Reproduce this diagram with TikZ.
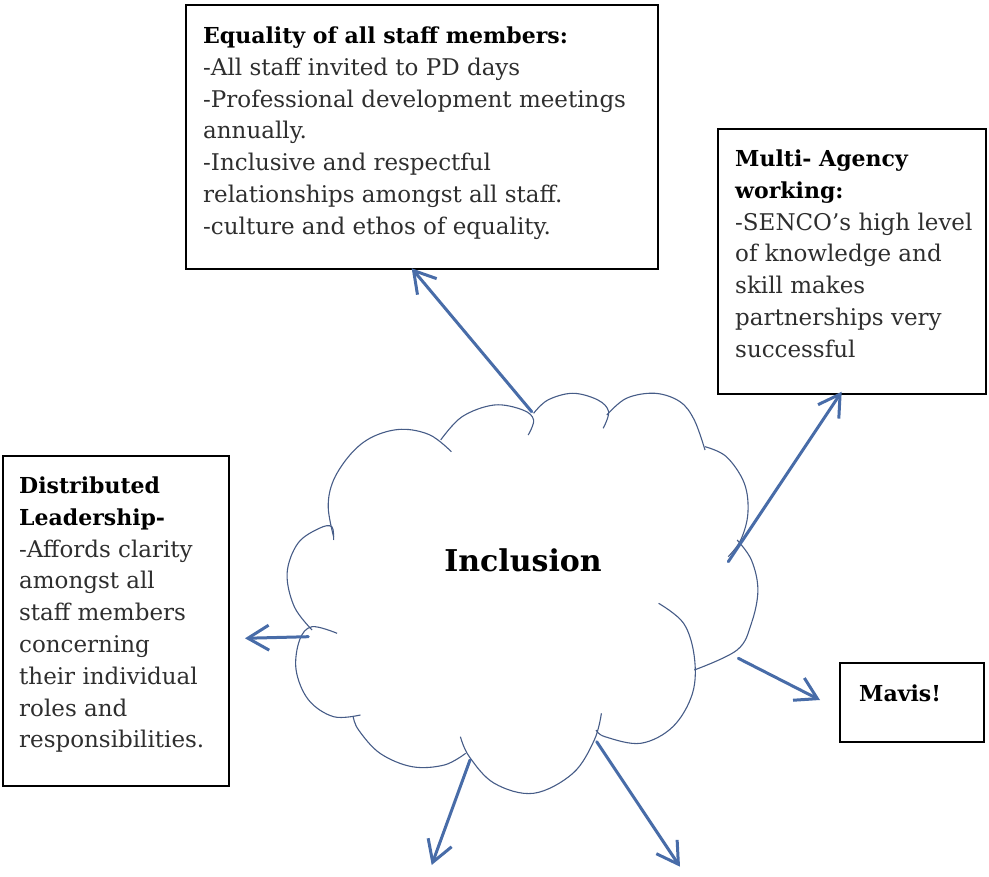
\documentclass[tikz,border=0pt]{standalone}
\usepackage{fontspec}
\setmainfont{DejaVu Serif}
\usetikzlibrary{arrows.meta}
\definecolor{arrowblue}{RGB}{72,108,168}
\definecolor{cloudcol}{RGB}{70,92,135}
\newcommand{\hd}[1]{{\fontsize{22}{31.8}\selectfont\bfseries\color{black}#1}}
\begin{document}
\begin{tikzpicture}[x=1pt,y=-1pt,
  box/.style={draw=black, line width=1.8pt, inner sep=0pt, anchor=north west},
  txt/.style={anchor=north west, inner sep=0pt, align=left, font=\fontsize{23}{31.8}\selectfont, text=black!82},
  arr/.style={draw=arrowblue, line width=3pt, line cap=round, -{Straight Barb[length=21pt,width=25pt,line width=3pt]}},
  cl/.style={draw=cloudcol, line width=1.1pt}]
\useasboundingbox (0,0) rectangle (989,877);

% boxes
\node[box, minimum width=472pt, minimum height=264pt] (eqbox) at (185,4) {};
\node[box, minimum width=268pt, minimum height=265pt] (mabox) at (717,128) {};
\node[box, minimum width=226pt, minimum height=330pt] (dlbox) at (2,455) {};
\node[box, minimum width=144pt, minimum height=79pt] (mvbox) at (839,662) {};

% texts
\node[txt] (eqtxt) at (203,26.5) {\hd{Equality of all staff members:}\\-All staff invited to PD days\\-Professional development meetings\\annually.\\-Inclusive and respectful\\relationships amongst all staff.\\-culture and ethos of equality.};
\node[txt] (matxt) at (735,149.5) {\hd{Multi- Agency}\\\hd{working:}\\-SENCO’s high level\\of knowledge and\\skill makes\\partnerships very\\successful};
\node[txt] (dltxt) at (19,476.5) {\hd{Distributed}\\\hd{Leadership-}\\-Affords clarity\\amongst all\\staff members\\concerning\\their individual\\roles and\\responsibilities.};
\node[txt] (mvtxt) at (859,684.5) {\hd{Mavis!}};

% cloud
\draw[cl] plot[smooth, tension=0.6] coordinates {(333.6,536.7) (328.2,506.7) (333.6,480) (351.4,453.3) (372.9,436.7) (401.4,429.3) (430,435) (451.4,451.7)};
\draw[cl] plot[smooth, tension=0.6] coordinates {(440.7,440) (462.1,416.7) (494.3,405) (522.9,410) (533.6,420) (528.2,435)};
\draw[cl] plot[smooth, tension=0.6] coordinates {(533.6,413.3) (547.9,400) (572.9,393.3) (597.9,400) (608.6,411.7) (603.2,428.3)};
\draw[cl] plot[smooth, tension=0.6] coordinates {(606.8,415) (626.4,398.3) (655,393.3) (680,401.7) (694.3,420) (705,450)};
\draw[cl] plot[smooth, tension=0.6] coordinates {(705,446.7) (726.4,456.7) (744.3,483.3) (747.9,513.3) (740.7,540) (728.2,556.7)};
\draw[cl] plot[smooth, tension=0.6] coordinates {(737.1,540) (751.4,560) (757.9,590) (751.4,623.3) (737.1,650) (694.3,670)};
\draw[cl] plot[smooth, tension=0.6] coordinates {(658.6,603.3) (683.6,623.3) (694.3,656.7) (692.5,693.3) (672.9,726.7) (640.7,743.3) (605,736.7) (596.1,730)};
\draw[cl] plot[smooth, tension=0.6] coordinates {(601.4,713.3) (594.3,740) (572.9,773.3) (533.6,793.3) (494.3,783.3) (469.3,756.7) (460.4,736.7)};
\draw[cl] plot[smooth, tension=0.6] coordinates {(465.7,753.3) (444.3,765) (412.1,766.7) (380,753.3) (358.6,730) (353.2,716.7)};
\draw[cl] plot[smooth, tension=0.6] coordinates {(360.4,715) (333.6,716.7) (308.6,700) (296.1,670) (299.6,640) (312.1,626.7) (337.1,633.3)};
\draw[cl] plot[smooth, tension=0.6] coordinates {(312.1,630) (294.3,606.7) (287.1,573.3) (297.9,543.3) (319.3,528.3) (331.8,526.7) (333.6,540)};

\node[font=\bfseries\fontsize{30}{36}\selectfont] (incl) at (523,560) {Inclusion};

% arrow end points
\coordinate (s1) at (531.7,411.7); \coordinate (e1) at (411.7,268.3);
\coordinate (s2) at (728.3,561.7); \coordinate (e2) at (841.7,391.7);
\coordinate (s3) at (470,760);     \coordinate (e3) at (431.7,865);
\coordinate (s4) at (596.7,741.7); \coordinate (e4) at (680,866.7);
\coordinate (s5) at (308.3,636.7); \coordinate (e5) at (245,638.3);
\coordinate (s6) at (738.3,658.3); \coordinate (e6) at (820,700);

\draw[arr] (s1) -- (e1);
\draw[arr] (s2) -- (e2);
\draw[arr] (s3) -- (e3);
\draw[arr] (s4) -- (e4);
\draw[arr] (s5) -- (e5);
\draw[arr] (s6) -- (e6);
\end{tikzpicture}
\end{document}
